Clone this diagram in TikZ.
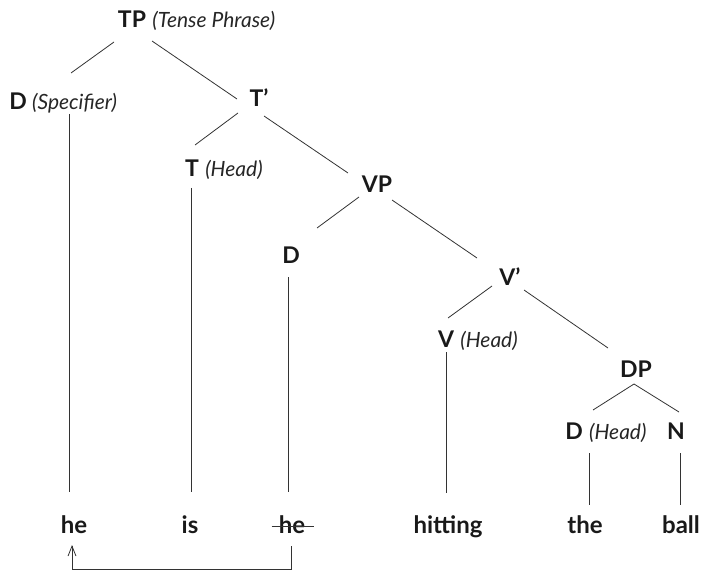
\documentclass[tikz,border=0pt]{standalone}
\usepackage{fontspec}
\setmainfont{Lato}
\usetikzlibrary{calc,arrows.meta}
\tikzset{
  lab/.style={inner sep=0pt, anchor=base, font=\fontsize{23}{25}\selectfont\bfseries, text=black!90},
  ann/.style={inner sep=0pt, anchor=base west, font=\fontsize{21}{23}\selectfont\itshape, text=black!85},
  word/.style={inner sep=0pt, anchor=base, font=\fontsize{24}{26}\selectfont\bfseries, text=black!90},
  edge/.style={draw=black!80, line width=0.8pt},
  move/.style={draw=black!80, line width=0.8pt, -{Straight Barb[length=10pt,width=8pt]}}
}
\begin{document}
\begin{tikzpicture}[x=1pt,y=-1pt]
\useasboundingbox (0,0) rectangle (701,572);
% labels
\node[lab] (TP) at (132,28) {TP};
\node[ann] (TPa) at ($(TP.base east)+(6,0)$) {(Tense Phrase)};
\node[lab] (Ds) at (18,110) {D};
\node[ann] (Dsa) at ($(Ds.base east)+(5,0)$) {(Specifier)};
\node[lab] (Tb) at (259,107) {T’};
\node[lab] (T) at (192,177) {T};
\node[ann] (Ta) at ($(T.base east)+(6,0)$) {(Head)};
\node[lab] (VP) at (377,193) {VP};
\node[lab] (Dv) at (291,263) {D};
\node[lab] (Vb) at (510,285) {V’};
\node[lab] (V) at (446,347) {V};
\node[ann] (Va) at ($(V.base east)+(6,0)$) {(Head)};
\node[lab] (DP) at (636,377) {DP};
\node[lab] (Dh) at (574,439) {D};
\node[ann] (Dha) at ($(Dh.base east)+(6,0)$) {(Head)};
\node[lab] (N) at (676,439) {N};
% words
\node[word] (he) at (74,533) {he};
\node[word] (is) at (190,533) {is};
\node[word] (het) at (292,533) {he};
\node[word] (hit) at (448,533) {hitting};
\node[word] (the) at (585,533) {the};
\node[word] (ball) at (681,533) {ball};
% edges
\draw[edge] ($(TP.base)+(-18,14)$) -- ($(Ds.base)+(53,-37)$);
\draw[edge] ($(TP.base)+(20,13)$) -- ($(Tb.base)+(-22,-8)$);
\draw[edge] ($(Ds.base)+(51,4)$) -- ($(he.base)+(-5,-41)$);
\draw[edge] ($(Tb.base)+(-21,6)$) -- ($(T.base)+(3,-32)$);
\draw[edge] ($(Tb.base)+(5,9)$) -- ($(VP.base)+(-29,-20)$);
\draw[edge] ($(T.base)+(-1,11)$) -- ($(is.base)+(1,-41)$);
\draw[edge] ($(VP.base)+(-18,4)$) -- ($(Dv.base)+(26,-35)$);
\draw[edge] ($(VP.base)+(15,7)$) -- ($(Vb.base)+(-33,-27)$);
\draw[edge] ($(Dv.base)+(-3,14)$) -- ($(het.base)+(-4,-41)$);
\draw[edge] ($(Vb.base)+(-18,1)$) -- ($(V.base)+(2,-29)$);
\draw[edge] ($(Vb.base)+(14,5)$) -- ($(DP.base)+(-28,-29)$);
\draw[edge] ($(V.base)+(0,5)$) -- ($(hit.base)+(-2,-40)$);
\draw[edge] ($(DP.base)+(-2,7)$) -- ($(Dh.base)+(19,-29)$);
\draw[edge] ($(DP.base)+(-2,7)$) -- ($(N.base)+(3,-27)$);
\draw[edge] ($(Dh.base)+(15,14)$) -- ($(the.base)+(4,-28)$);
\draw[edge] ($(N.base)+(4,14)$) -- ($(ball.base)+(-1,-28)$);
% strike-through of the moved copy
\draw[edge] ($(het.base west)+(-7,-7)$) -- ($(het.base east)+(9,-7)$);
% movement arrow
\draw[move] ($(het.base)+(-1,13)$) |- ($(he.base)+(-2,36)$) -- ($(he.base)+(-2,12)$);
\end{tikzpicture}
\end{document}
